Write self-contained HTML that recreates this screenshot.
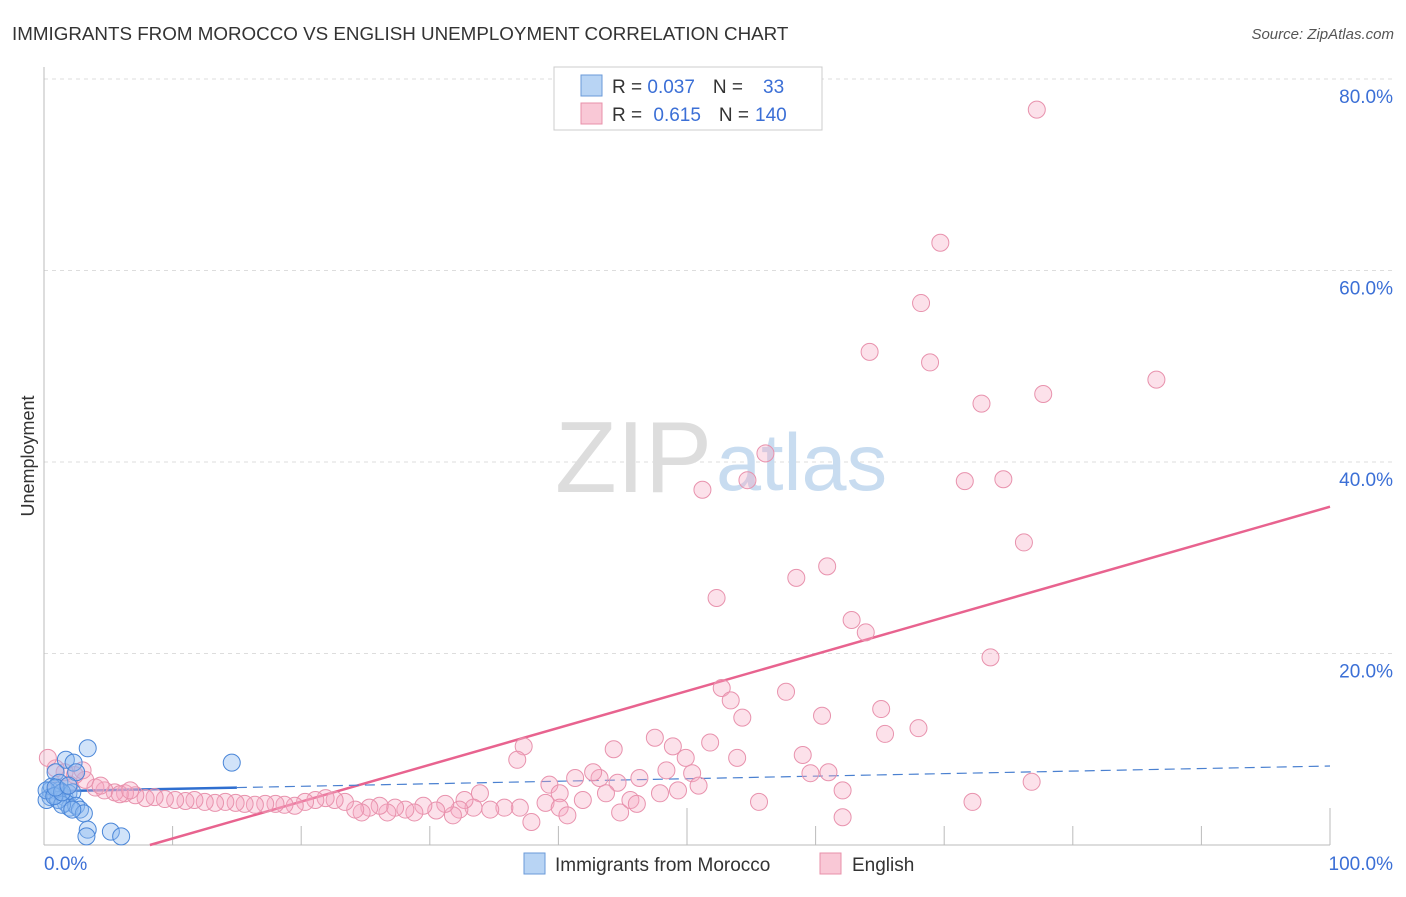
<!DOCTYPE html>
<html><head><meta charset="utf-8"><style>
body{margin:0;background:#fff;font-family:"Liberation Sans",sans-serif;}
svg text{font-family:"Liberation Sans",sans-serif;}
</style></head><body>
<svg width="1406" height="892" xmlns="http://www.w3.org/2000/svg">
<text x="12" y="40" font-size="18.8" fill="#333">IMMIGRANTS FROM MOROCCO VS ENGLISH UNEMPLOYMENT CORRELATION CHART</text>
<text x="1394" y="39" font-size="15" fill="#555" font-style="italic" text-anchor="end">Source: ZipAtlas.com</text>
<text transform="translate(34,456) rotate(-90)" font-size="18" fill="#333" text-anchor="middle">Unemployment</text>
<g id="grid"></g>
<g id="axes"></g>
<text x="555" y="492" font-size="101" fill="#ddd" font-family="Liberation Serif">ZIP</text>
<text x="716" y="490" font-size="81" fill="#c8dcf0">atlas</text>
<g id="lines"></g>
<g id="pts"></g>
<g>
<rect x="554" y="67" width="268" height="63" fill="#fff" stroke="#ccc"/>
<rect x="581" y="75" width="21" height="21" fill="#b8d4f4" stroke="#6a9ad8"/>
<rect x="581" y="103" width="21" height="21" fill="#f9c8d6" stroke="#e890aa"/>
<text x="612" y="93" font-size="19" fill="#333">R = <tspan fill="#3b6fd6">0.037</tspan><tspan dx="18">N =</tspan><tspan dx="20" fill="#3b6fd6">33</tspan></text>
<text x="612" y="121" font-size="19" fill="#333">R = <tspan dx="6" fill="#3b6fd6">0.615</tspan><tspan dx="18">N =</tspan><tspan dx="6" fill="#3b6fd6">140</tspan></text>
</g>
<g>
<rect x="524" y="853" width="21" height="21" fill="#b8d4f4" stroke="#6a9ad8"/>
<text x="555" y="871" font-size="19" fill="#333">Immigrants from Morocco</text>
<rect x="820" y="853" width="21" height="21" fill="#f9c8d6" stroke="#e890aa"/>
<text x="852" y="871" font-size="19" fill="#333">English</text>
</g>
</svg>
<script>
const yTicks=[20,40,60,80];
const yTickLabels=["20.0%","40.0%","60.0%","80.0%"];
const xTicks=[0,10,20,30,40,50,60,70,80,90,100];
const englishX=[77.2,69.7,68.2,64.2,68.9,72.9,77.7,86.5,56.1,51.2,54.7,71.6,74.6,76.2,58.5,60.9,52.3,62.8,63.9,73.6,52.7,53.4,57.7,54.3,60.5,65.1,65.4,68.0,37.3,44.3,47.5,48.9,51.8,49.9,36.8,53.9,59.0,48.4,50.4,59.6,61.0,76.8,72.2,55.6,62.1,62.1,50.9,49.3,47.9,46.3,44.6,43.2,42.7,41.3,39.3,40.1,41.9,43.7,44.8,45.6,46.1,39.0,37.9,40.1,40.7,37.0,35.8,34.7,33.9,33.4,32.7,32.3,31.8,31.2,30.5,29.5,28.8,28.1,27.3,26.7,26.1,25.3,24.7,24.2,23.4,22.6,21.9,21.1,20.3,19.5,18.7,18.0,17.2,16.4,15.6,14.9,14.1,13.3,12.5,11.7,11.0,10.2,9.4,8.6,7.9,7.1,6.3,5.5,4.7,4.0,3.2,2.4,1.6,0.9,0.3,0.9,2.0,3.0,4.4,5.9,6.7];
const englishY=[76.8,62.9,56.6,51.5,50.4,46.1,47.1,48.6,40.9,37.1,38.1,38.0,38.2,31.6,27.9,29.1,25.8,23.5,22.2,19.6,16.4,15.1,16.0,13.3,13.5,14.2,11.6,12.2,10.3,10.0,11.2,10.3,10.7,9.1,8.9,9.1,9.4,7.8,7.5,7.5,7.6,6.6,4.5,4.5,2.9,5.7,6.2,5.7,5.4,7.0,6.5,7.0,7.6,7.0,6.3,5.4,4.7,5.4,3.4,4.7,4.3,4.4,2.4,3.9,3.1,3.9,3.9,3.7,5.4,3.9,4.7,3.7,3.1,4.3,3.6,4.1,3.4,3.7,3.9,3.4,4.1,3.9,3.4,3.7,4.5,4.7,4.9,4.7,4.5,4.1,4.2,4.3,4.3,4.2,4.3,4.4,4.5,4.4,4.5,4.7,4.6,4.7,4.8,5.0,4.9,5.2,5.4,5.5,5.7,6.0,6.8,7.3,7.6,8.0,9.1,5.7,6.3,7.8,6.2,5.3,5.7];
const moroccoX=[3.4,14.6,1.7,2.3,2.5,0.9,1.2,0.5,0.5,0.9,1.2,1.6,1.9,2.2,1.7,2.0,2.5,2.8,3.1,3.4,3.3,5.2,6.0,0.2,0.6,1.1,1.4,0.2,0.8,1.4,0.9,1.9,2.2];
const moroccoY=[10.1,8.6,8.9,8.6,7.6,7.6,6.5,5.7,5.0,5.2,5.7,5.0,5.4,5.5,4.4,3.9,4.1,3.7,3.3,1.6,0.9,1.4,0.9,4.7,6.1,4.7,4.2,5.7,5.1,5.5,6.0,6.2,3.7];
const englishFit=[-3.17,0.385];
const moroccoFit=[5.6,0.0265];
const NS="http://www.w3.org/2000/svg";
const X=v=>44+v*12.86, Y=v=>845-v*9.575;
function mk(t,a,p){const e=document.createElementNS(NS,t);for(const k in a)e.setAttribute(k,a[k]);p.appendChild(e);return e;}
const grid=document.getElementById('grid'),axes=document.getElementById('axes');
yTicks.forEach((v,i)=>{
 const l=mk('line',{x1:44,x2:1394,y1:Y(v),y2:Y(v),stroke:'#ddd','stroke-dasharray':'4,4'},grid);
 
 
 const t=mk('text',{x:1393,y:Y(v)+24,'font-size':19,fill:'#3b6fd6','text-anchor':'end'},axes);
 t.textContent=yTickLabels[i];
 
 
});
const ax=mk('line',{x1:44,x2:1330,y1:845,y2:845,stroke:'#bbb'},axes);


const ay=mk('line',{x1:44,x2:44,y1:67,y2:845,stroke:'#bbb'},axes);


xTicks.forEach(v=>{
 const tk=mk('line',{x1:X(v),x2:X(v),y1:(v%50==0?808:826),y2:845,stroke:'#bbb'},axes);
 
 
});
const xl0=mk('text',{x:44,y:870,'font-size':19,fill:'#3b6fd6'},axes);xl0.textContent='0.0%';


const xl1=mk('text',{x:1393,y:870,'font-size':19,fill:'#3b6fd6','text-anchor':'end'},axes);xl1.textContent='100.0%';


const pts=document.getElementById('pts');
englishX.forEach((x,i)=>{
 const c=mk('circle',{cx:X(x),cy:Y(englishY[i]),r:8.5,fill:'rgba(246,170,195,0.35)',stroke:'#e892ad','stroke-width':1},pts);
 
 
});
moroccoX.forEach((x,i)=>{
 const c=mk('circle',{cx:X(x),cy:Y(moroccoY[i]),r:8.5,fill:'rgba(140,185,240,0.4)',stroke:'#4a86d8','stroke-width':1},pts);
 
 
});
const lines=document.getElementById('lines');
const x0=-englishFit[0]/englishFit[1];
const el=mk('line',{x1:X(x0),y1:Y(0),x2:X(100),y2:Y(englishFit[0]+englishFit[1]*100),stroke:'#e8638f','stroke-width':2.5},lines);


const ml=mk('line',{x1:X(0),y1:Y(moroccoFit[0]),x2:X(15),y2:Y(moroccoFit[0]+moroccoFit[1]*15),stroke:'#2f6fd0','stroke-width':2.5},lines);


const md=mk('line',{x1:X(15),y1:Y(moroccoFit[0]+moroccoFit[1]*15),x2:X(100),y2:Y(moroccoFit[0]+moroccoFit[1]*100),stroke:'#4a80d0','stroke-width':1.2,'stroke-dasharray':'10,6'},lines);


</script>
</body></html>
